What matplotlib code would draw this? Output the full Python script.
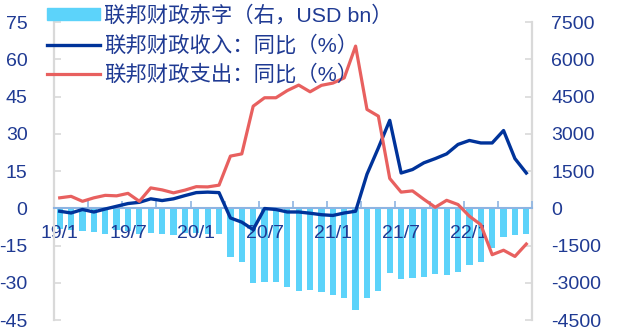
import matplotlib
matplotlib.use("Agg")
import matplotlib.pyplot as plt
from matplotlib.patches import Patch
from matplotlib.lines import Line2D
import numpy as np

plt.rcParams['font.family'] = ['Liberation Sans', 'Noto Sans CJK SC', 'DejaVu Sans']
plt.rcParams['axes.unicode_minus'] = False

# monthly, 2019-01 .. 2022-06
tick_labels = ['19/1', '19/7', '20/1', '20/7', '21/1', '21/7', '22/1']

# federal deficit, USD bn (right axis)
deficit = [-830, -880, -900, -960, -1020, -870, -900, -1050, -990, -1040,
           -1060, -1000, -1010, -1050, -1050, -1980, -2160, -3010, -2950, -2950,
           -3190, -3320, -3290, -3370, -3500, -3600, -4110, -3610, -3340, -2610,
           -2850, -2810, -2750, -2650, -2680, -2570, -2300, -2160, -1600, -1170,
           -1090, -1050]

# federal revenue, yoy %
revenue_yoy = [-1.2, -1.9, -0.5, -1.5, -0.3, 0.8, 1.9, 2.4, 3.8, 3.1,
               3.8, 5.1, 6.3, 6.5, 6.3, -3.9, -5.6, -8.6, -0.1, -0.5,
               -1.5, -1.5, -2.0, -2.6, -2.9, -1.9, -1.2, 13.7, 24.3, 35.4,
               14.2, 15.6, 18.3, 20.0, 21.9, 25.7, 27.3, 26.3, 26.3, 31.3,
               20.0, 14.2]

# federal spending, yoy %
spending_yoy = [4.2, 4.8, 2.8, 4.2, 5.2, 5.0, 6.0, 2.8, 8.2, 7.4,
                6.2, 7.3, 8.7, 8.6, 9.3, 21.0, 21.9, 41.1, 44.5, 44.5,
                47.4, 49.6, 46.9, 49.5, 50.4, 52.5, 65.3, 39.8, 37.1, 12.0,
                6.5, 7.0, 3.6, 0.4, 3.2, 1.5, -3.2, -6.6, -18.7, -16.9,
                -19.4, -14.4]

navy = '#1F3A93'
bar_color = '#5CD3FA'
rev_color = '#00339A'
exp_color = '#E8605F'
grey = '#D9D9D9'

x = np.arange(len(deficit))

fig = plt.figure(figsize=(6.31, 3.31), dpi=100)
ax = fig.add_axes([0.0856, 0.0332, 0.7575, 0.9003])
ax2 = ax.twinx()

ax2.bar(x, deficit, width=0.55, color=bar_color, zorder=2)
ax.plot(x, revenue_yoy, color=rev_color, lw=2.4, zorder=3)
ax.plot(x, spending_yoy, color=exp_color, lw=2.3, zorder=3)

# lines on top of the bars
ax.set_zorder(ax2.get_zorder() + 1)
ax.patch.set_visible(False)

ax.set_xlim(-0.5, len(deficit) - 0.5)
ax.set_ylim(-45, 75)
ax.set_yticks(np.arange(-45, 76, 15))
ax2.set_ylim(-4500, 7500)
ax2.set_yticks(np.arange(-4500, 7501, 1500))

for s in ['top']:
    ax.spines[s].set_visible(False)
    ax2.spines[s].set_visible(False)
ax2.spines['bottom'].set_visible(False)
ax2.spines['left'].set_visible(False)
ax.spines['right'].set_visible(False)
ax.spines['left'].set_color(grey)
ax.spines['left'].set_linewidth(1.6)
ax2.spines['right'].set_color(grey)
ax2.spines['right'].set_linewidth(1.6)
ax.spines['bottom'].set_position(('data', 0))
ax.spines['bottom'].set_color('#8DB4E2')
ax.spines['bottom'].set_linewidth(1.5)

ax.tick_params(axis='y', direction='in', length=5, width=1.2, color=grey,
               labelsize=14, labelcolor=navy, pad=19)
ax2.tick_params(axis='y', direction='in', length=5, width=1.2, color=grey,
                labelsize=14, labelcolor=navy, pad=14)

# quarter boundaries as tick marks, labels every six months
ax.set_xticks(np.arange(-0.5, len(deficit), 3))
ax.set_xticklabels([])
ax.tick_params(axis='x', which='major', direction='in', length=5, width=1.2,
               color='#8DB4E2')
ax.set_xticks(np.arange(0, len(deficit), 6), minor=True)
ax.set_xticklabels(tick_labels, minor=True)
ax.tick_params(axis='x', which='minor', length=0, labelsize=14,
               labelcolor=navy, pad=12)

handles = [Patch(color=bar_color),
           Line2D([], [], color=rev_color, lw=2.4),
           Line2D([], [], color=exp_color, lw=2.3)]
labels = ['联邦财政赤字（右，USD bn）',
          '联邦财政收入：同比（%）',
          '联邦财政支出：同比（%）']
leg = fig.legend(handles, labels, loc='upper left',
                 bbox_to_anchor=(47 / 631, 1 - 5 / 331), frameon=False,
                 fontsize=15.4, handlelength=2.48, handleheight=0.45,
                 handletextpad=0.18, labelspacing=0.42, borderpad=0,
                 borderaxespad=0)
for t in leg.get_texts():
    t.set_color(navy)

fig.savefig('out.png', dpi=100)
